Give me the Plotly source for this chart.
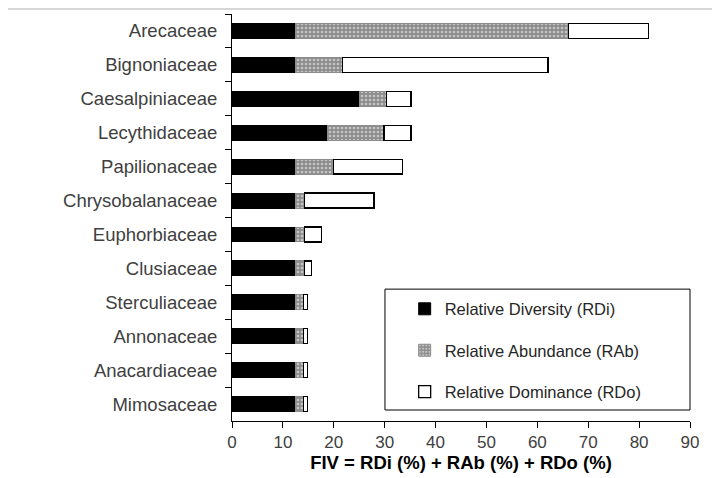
import plotly.graph_objects as go

families = ["Arecaceae", "Bignoniaceae", "Caesalpiniaceae", "Lecythidaceae", "Papilionaceae",
            "Chrysobalanaceae", "Euphorbiaceae", "Clusiaceae", "Sterculiaceae", "Annonaceae",
            "Anacardiaceae", "Mimosaceae"]
rdi = [12.5, 12.5, 25.0, 18.75, 12.5, 12.5, 12.5, 12.5, 12.5, 12.5, 12.5, 12.5]
rab = [53.6, 9.2, 5.3, 11.1, 7.4, 1.7, 1.8, 1.8, 1.6, 1.6, 1.6, 1.6]
rdo = [15.7, 40.4, 4.9, 5.3, 13.6, 13.7, 3.3, 1.3, 0.8, 0.8, 0.8, 0.8]
x_ticks = [0, 10, 20, 30, 40, 50, 60, 70, 80, 90]

FONT = "Liberation Sans, Arial, sans-serif"
TXT = "#404040"

fig = go.Figure()
fig.add_trace(go.Bar(y=families, x=rdi, orientation="h", name="Relative Diversity (RDi)",
                     legendgroup="a",
                     marker=dict(color="black", line=dict(color="black", width=1))))
fig.add_trace(go.Bar(y=families, x=rab, orientation="h", name="Relative Abundance (RAb)",
                     legendgroup="b",
                     marker=dict(color="#8c8c8c", line=dict(color="#8c8c8c", width=1),
                                 pattern=dict(shape=".", fgcolor="white", bgcolor="#8c8c8c",
                                              size=4, solidity=0.35))))
fig.add_trace(go.Bar(y=families, x=rdo, orientation="h", name="Relative Dominance (RDo)",
                     legendgroup="c",
                     marker=dict(color="white", line=dict(color="black", width=1.3))))

fig.update_layout(
    barmode="stack",
    bargap=0.56,
    width=712, height=470,
    margin=dict(l=224, r=30, t=6, b=57),
    plot_bgcolor="white", paper_bgcolor="white",
    font=dict(family=FONT, size=17, color=TXT),
    legend=dict(x=0.377, y=0.318, xanchor="left", yanchor="top",
                font=dict(family=FONT, size=16.5, color="#262626"),
                bgcolor="rgba(0,0,0,0)", tracegroupgap=17, traceorder="grouped",
                itemwidth=30),
    shapes=[dict(type="rect", xref="paper", yref="paper", x0=0.334, x1=1.0, y0=0.027, y1=0.324,
                 line=dict(color="black", width=1), fillcolor="rgba(0,0,0,0)"),
            dict(type="line", xref="paper", yref="paper", x0=-0.49, x1=1.07,
                 y0=1.0125, y1=1.0125, line=dict(color="#c8c8c8", width=1.5))],
)
fig.update_xaxes(range=[0, 90], tickvals=x_ticks, ticktext=[str(v) for v in x_ticks],
                 showline=True, linecolor="black", linewidth=1, ticks="outside", ticklen=6,
                 tickcolor="black", showgrid=False, zeroline=False, automargin=False,
                 title=dict(text="<b>FIV = RDi (%) + RAb (%) + RDo (%)</b>",
                            font=dict(family=FONT, size=18.5, color="black"), standoff=3),
                 tickfont=dict(family=FONT, size=17, color=TXT))
fig.update_yaxes(categoryorder="array", categoryarray=families, autorange="reversed",
                 showline=True, linecolor="black", linewidth=1, ticks="outside", ticklen=6,
                 tickcolor="black", tickson="boundaries", showgrid=False, automargin=False,
                 tickfont=dict(family=FONT, size=18.5, color=TXT), ticklabelstandoff=10)

fig.write_html("out.html")
